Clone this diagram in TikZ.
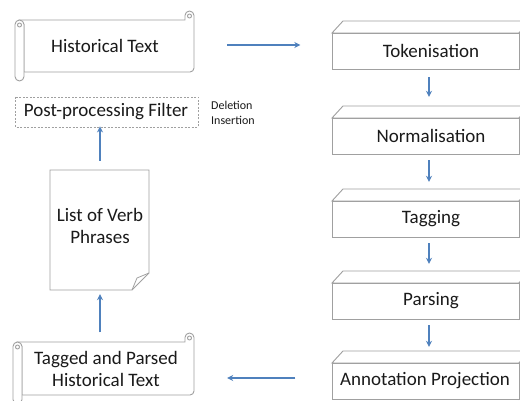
\documentclass[tikz,border=0pt]{standalone}
\usepackage{fontspec}
\setmainfont{Carlito}
\usetikzlibrary{arrows.meta,calc}
\definecolor{edge}{HTML}{A0A0A0}
\definecolor{arrowblue}{HTML}{4F81BD}
\definecolor{ink}{HTML}{1A1A1A}
\tikzset{
  shapeline/.style={draw=edge,line width=0.9pt,fill=white},
  lbl/.style={text=ink,font=\fontsize{19}{22}\selectfont,align=center,inner sep=0pt},
  boxnode/.style={lbl,minimum width=187pt,minimum height=36pt},
  arr/.style={draw=arrowblue,line width=1.3pt,-{Stealth[length=6pt,width=6pt]}},
}
% horizontal scroll: left, right, top, bottom (screen coordinates)
\newcommand\myscroll[4]{%
  \path[shapeline] ({#1+4.5},{#3+9}) -- ({#2-9},{#3+9}) -- ({#2-9},{#3+4.5})
     arc (180:360:4.5) -- ({#2},{#4-13}) arc (0:90:4) -- ({#1+9},{#4-9}) -- ({#1+9},{#3+13.5}) -- cycle;
  \draw[draw=edge,line width=0.9pt] ({#2-4.5},{#3+5}) circle (2);
  \path[shapeline] ({#1},{#3+13.5}) arc (180:360:4.5) -- ({#1+9},{#4-4.5}) arc (0:90:4.5) arc (90:180:4.5) -- cycle;
  \draw[draw=edge,line width=0.9pt] ({#1+4.5},{#3+14}) circle (2);
}
\newcommand\mythreed[2]{% top and bottom of the front face
  \path[shapeline] (343,{#1-12}) -- (530,{#1-12}) -- (519,#1) -- (332,#1) -- cycle;
  \path[shapeline] (530,{#1-12}) -- (530,{#2-12}) -- (519,#2) -- (519,#1) -- cycle;
  \path[shapeline] (332,#1) rectangle (519,#2);
}
\begin{document}
\begin{tikzpicture}[x=1pt,y=-1pt]
\useasboundingbox (0,0) rectangle (520,401);
\clip (0,0) rectangle (520,401);
\fill[white] (0,0) rectangle (520,401);

% left column shapes
\myscroll{15}{194}{11}{81}
\node[lbl,minimum width=170pt,minimum height=52pt] (hist) at (105,46) {Historical Text};

\draw[draw=edge,line width=0.8pt,dash pattern=on 2pt off 1.5pt] (15,97) rectangle (198,127);
\node[lbl] (post) at (106,112) {Post-processing Filter};
\node[text=ink,font=\fontsize{12}{15}\selectfont,align=left,anchor=west,inner sep=0pt] (edits) at (211,112.5) {Deletion\\Insertion};

\path[shapeline] (50,170) -- (149,170) -- (149,273) -- (132,290) -- (50,290) -- cycle;
\draw[draw=edge,line width=0.8pt] (149,273) -- (137,278) -- (132,290);
\node[lbl,minimum width=99pt,minimum height=120pt] (list) at (100,226) {List of Verb\\Phrases};

\myscroll{13}{194}{333}{404}
\node[lbl,minimum width=172pt,minimum height=53pt] (tagged) at (106,369) {Tagged and Parsed\\Historical Text};

% right column 3D boxes
\mythreed{33}{69}
\node[boxnode] (tok) at (431,51) {Tokenisation};
\mythreed{118}{154}
\node[boxnode] (norm) at (431,136) {Normalisation};
\mythreed{201}{237}
\node[boxnode] (tag) at (431,219) {Tagging};
\mythreed{283}{319}
\node[boxnode] (parse) at (431,301) {Parsing};
\mythreed{363}{399}
\node[boxnode] (annot) at (425,381) {Annotation Projection};

% connectors
\draw[arr] ($(hist.east)+(37,-1)$) -- ($(tok.west |- hist.east)+(-37,-1)$);
\draw[arr] ($(tok.south)+(-2,8)$) -- ($(norm.north)+(-2,-21)$);
\draw[arr] ($(norm.south)+(-2,6)$) -- ($(tag.north)+(-2,-19)$);
\draw[arr] ($(tag.south)+(-2,6)$) -- ($(parse.north)+(-2,-19)$);
\draw[arr] ($(parse.south)+(-2,6)$) -- ($(parse.south |- annot.north)+(-2,-16)$);
\draw[arr] ($(annot.west)+(-36,-3)$) -- ($(tagged.east |- annot.west)+(35,-3)$);
\draw[arr] ($(list.south |- tagged.north)+(0,-10)$) -- ($(list.south)+(0,8)$);
\draw[arr] ($(list.north)+(0,-5)$) -- ($(list.north |- post.south)+(0,6)$);
\end{tikzpicture}
\end{document}
